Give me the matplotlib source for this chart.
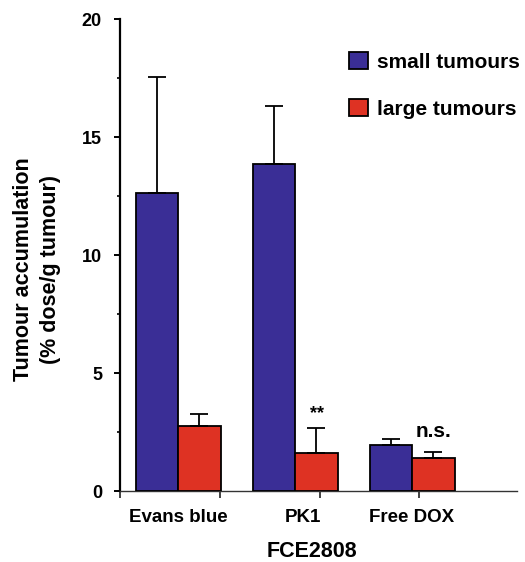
import numpy as np
import matplotlib
matplotlib.use("Agg")
import matplotlib.pyplot as plt
from matplotlib.patches import Patch

plt.rcParams['font.family'] = ['Liberation Sans', 'DejaVu Sans']
plt.rcParams['font.weight'] = 'bold'

groups = ["Evans blue", "PK1", "Free DOX"]
small_mean = [12.64, 13.84, 1.96]
small_err = [4.90, 2.49, 0.23]
large_mean = [2.77, 1.62, 1.41]
large_err = [0.49, 1.05, 0.24]
series_names = ["small tumours", "large tumours"]
notes = ["", "**", "n.s."]

blue = "#3a2e96"
red = "#de3223"

fig = plt.figure(figsize=(5.25, 5.62), dpi=100)
ax = fig.add_axes([120 / 525, 71 / 562, 397 / 525, 472 / 562])

x = np.arange(len(groups))
w = 0.363
ebar = dict(ecolor="black", elinewidth=1.3, capsize=6.5, capthick=1.3)
ax.bar(x - w / 2, small_mean, w, color=blue, edgecolor="black", linewidth=1.3,
       yerr=[np.zeros(3), small_err], error_kw=ebar, zorder=3)
ax.bar(x + w / 2, large_mean, w, color=red, edgecolor="black", linewidth=1.3,
       yerr=[np.zeros(3), large_err], error_kw=ebar, zorder=3)

# significance marks above the large-tumour bars
for i, txt in enumerate(notes):
    if not txt:
        continue
    top = large_mean[i] + large_err[i]
    if txt == "**":
        ax.text(x[i] + w / 2 + 0.01, top + 0.40, txt, ha="center", va="baseline",
                fontsize=13, fontweight="bold")
    else:
        ax.text(x[i] + w / 2, top + 0.65, txt, ha="center", va="baseline",
                fontsize=15, fontweight="bold")

ax.set_xlim(-0.496, 2.897)
ax.set_ylim(0, 20)

ax.spines["top"].set_visible(False)
ax.spines["right"].set_visible(False)
ax.spines["left"].set_linewidth(1.6)
ax.spines["bottom"].set_linewidth(1.0)
ax.spines["bottom"].set_color("#333333")

ax.set_yticks([0, 5, 10, 15, 20])
ax.set_yticks([2.5, 7.5, 12.5, 17.5], minor=True)
ax.tick_params(axis="y", which="major", length=4, width=1.4, pad=9, labelsize=13)
ax.tick_params(axis="y", which="minor", length=2, width=1.2)

ax.set_xticks([0, 1.07, 2.0])
ax.set_xticklabels(groups)
ax.set_xticks([-0.496, 0.359, 1.214, 2.06], minor=True)
ax.tick_params(axis="x", which="major", length=0, pad=13, labelsize=13.5)
ax.tick_params(axis="x", which="minor", length=5, width=1.3, color="#333333")

ax.set_xlabel("FCE2808", fontsize=15.5, fontweight="bold")
ax.xaxis.set_label_coords(0.484, -0.106)
fig.text(37 / 525, 1 - 269 / 562, "Tumour accumulation\n(% dose/g tumour)",
         rotation=90, ha="center", va="center", multialignment="center",
         fontsize=15.5, fontweight="bold", linespacing=1.35)

handles = [Patch(facecolor=blue, edgecolor="black", linewidth=1.3),
           Patch(facecolor=red, edgecolor="black", linewidth=1.3)]
fig.legend(handles, series_names, loc="upper left",
           bbox_to_anchor=(349 / 525, 1 - 52 / 562), frameon=False,
           fontsize=15, handlelength=0.9, handleheight=0.9,
           handletextpad=0.45, labelspacing=1.3, borderpad=0, borderaxespad=0)

fig.savefig("out.png", dpi=100)
